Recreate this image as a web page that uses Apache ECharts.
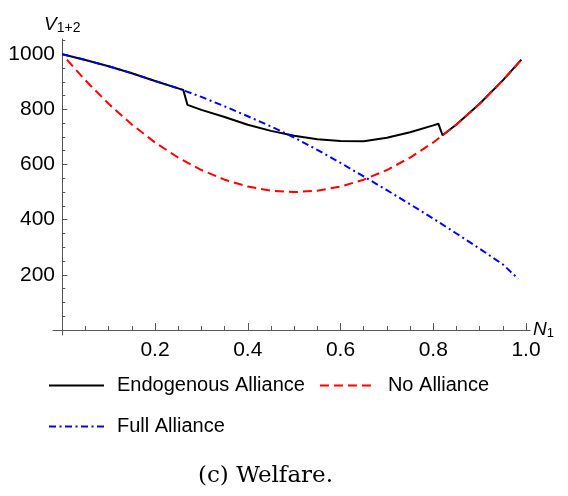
<!DOCTYPE html>
<html>
<head>
<meta charset="utf-8">
<script src="https://cdn.jsdelivr.net/npm/echarts@6/dist/echarts.min.js"></script>
<style>
  html, body { margin: 0; padding: 0; background: #fff; }
  #chart { width: 568px; height: 496px; }
</style>
</head>
<body>
<div id="chart"></div>
<script>
// Welfare V(1+2) as a function of N1 under three alliance regimes.

// Endogenous alliance (solid black)
const endoN = [0, 0.05, 0.1, 0.15, 0.2, 0.25, 0.261, 0.270, 0.3, 0.35, 0.4, 0.45, 0.5,
               0.55, 0.6, 0.65, 0.7, 0.75, 0.8, 0.811, 0.820, 0.85, 0.9, 0.95, 0.99];
const endoV = [1000, 979, 956, 931, 903, 876, 870, 816, 798, 772, 744, 722, 704,
               692, 685, 684, 697, 717, 742, 748, 706, 745, 820, 905, 980];

// No alliance (red dashed)
const noN = [0.01, 0.05, 0.1, 0.15, 0.2, 0.25, 0.3, 0.35, 0.4, 0.45, 0.5,
             0.55, 0.6, 0.65, 0.7, 0.75, 0.8, 0.85, 0.9, 0.95, 0.99];
const noV = [980, 905, 820, 745, 680, 625, 580, 545, 520, 505, 500,
             505, 520, 545, 580, 625, 680, 745, 820, 905, 980];

// Full alliance (blue dash-dot)
const fullN = [0, 0.05, 0.1, 0.15, 0.2, 0.25, 0.3, 0.35, 0.4, 0.45, 0.5,
               0.55, 0.6, 0.65, 0.7, 0.75, 0.8, 0.85, 0.9, 0.95, 0.983];
const fullV = [1000, 979, 956, 931, 903, 876, 845, 811, 775, 738, 698,
               653, 606, 557, 507, 456, 404, 350, 295, 238, 186];

// Axis ticks
const xMajorTicks = [0.2, 0.4, 0.6, 0.8, 1.0];
const xMinorTicks = [0.05, 0.1, 0.15, 0.25, 0.3, 0.35, 0.45, 0.5, 0.55, 0.65, 0.7, 0.75, 0.85, 0.9, 0.95];
const yMajorTicks = [200, 400, 600, 800, 1000];
const yMinorTicks = [50, 100, 150, 250, 300, 350, 450, 500, 550, 650, 700, 750, 850, 900, 950, 1050];

const seriesNames = ['Endogenous Alliance', 'No Alliance', 'Full Alliance'];

const SANS = '"Liberation Sans", Arial, Helvetica, sans-serif';
const AXIS_COLOR = '#555';
const X_RANGE = [-0.02, 1.0086];
const Y_RANGE = [-18, 1055];

const pairs = (xs, ys) => xs.map((x, i) => [x, ys[i]]);

const chart = echarts.init(document.getElementById('chart'), null, { renderer: 'canvas' });

chart.setOption({
  animation: false,
  backgroundColor: '#fff',
  title: {
    text: '(c) Welfare.',
    left: 198,
    top: 465,
    padding: 0,
    textStyle: {
      fontFamily: '"DejaVu Serif", "Liberation Serif", serif',
      fontSize: 23,
      fontWeight: 'normal',
      color: '#000'
    }
  },
  grid: {
    left: 53, right: 38, top: 39, bottom: 161,
    containLabel: false,
    outerBoundsMode: 'none'
  },
  legend: {
    left: 48,
    top: 372,
    width: 470,
    padding: 0,
    orient: 'horizontal',
    itemWidth: 55,
    itemHeight: 14,
    itemGap: 14,
    data: seriesNames,
    itemStyle: { opacity: 0 },
    textStyle: {
      fontFamily: SANS,
      fontSize: 20,
      color: '#000',
      lineHeight: 27,
      padding: [0, 0, 0, 8]
    }
  },
  xAxis: [
    {
      type: 'value',
      position: 'bottom',
      min: X_RANGE[0],
      max: X_RANGE[1],
      name: '{n|N}{s|1}',
      nameLocation: 'end',
      nameGap: 3,
      nameTextStyle: {
        rich: {
          n: { fontFamily: SANS, fontStyle: 'italic', fontSize: 19, lineHeight: 20, verticalAlign: 'top', color: '#000' },
          s: { fontFamily: SANS, fontSize: 13, lineHeight: 11, verticalAlign: 'bottom', color: '#000' }
        }
      },
      axisLine: { show: true, onZero: true, onZeroAxisIndex: 0, lineStyle: { color: AXIS_COLOR, width: 1 } },
      axisTick: { show: true, inside: true, length: 7, customValues: xMajorTicks, lineStyle: { color: AXIS_COLOR, width: 1 } },
      axisLabel: {
        show: true,
        customValues: xMajorTicks,
        margin: 5,
        fontFamily: SANS,
        fontSize: 21,
        color: '#000',
        formatter: v => v.toFixed(1)
      },
      splitLine: { show: false }
    },
    {
      type: 'value',
      position: 'bottom',
      min: X_RANGE[0],
      max: X_RANGE[1],
      axisLine: { show: false, onZero: true, onZeroAxisIndex: 1 },
      axisTick: { show: true, inside: true, length: 4, customValues: xMinorTicks, lineStyle: { color: AXIS_COLOR, width: 1 } },
      axisLabel: { show: false },
      splitLine: { show: false }
    }
  ],
  yAxis: [
    {
      type: 'value',
      position: 'left',
      min: Y_RANGE[0],
      max: Y_RANGE[1],
      name: '{v|V}{s|1+2}',
      nameLocation: 'end',
      nameGap: 4,
      nameTextStyle: {
        rich: {
          v: { fontFamily: SANS, fontStyle: 'italic', fontSize: 19, lineHeight: 20, verticalAlign: 'top', color: '#000' },
          s: { fontFamily: SANS, fontSize: 14, lineHeight: 11, verticalAlign: 'bottom', color: '#000' }
        }
      },
      axisLine: { show: true, onZero: true, onZeroAxisIndex: 0, lineStyle: { color: AXIS_COLOR, width: 1 } },
      axisTick: { show: true, inside: true, length: 5, customValues: yMajorTicks, lineStyle: { color: AXIS_COLOR, width: 1 } },
      axisLabel: {
        show: true,
        customValues: yMajorTicks,
        margin: -2,
        fontFamily: SANS,
        fontSize: 21,
        color: '#000',
        formatter: v => String(v)
      },
      splitLine: { show: false }
    },
    {
      type: 'value',
      position: 'left',
      min: Y_RANGE[0],
      max: Y_RANGE[1],
      axisLine: { show: false, onZero: true, onZeroAxisIndex: 1 },
      axisTick: { show: true, inside: true, length: 3, customValues: yMinorTicks, lineStyle: { color: AXIS_COLOR, width: 1 } },
      axisLabel: { show: false },
      splitLine: { show: false }
    }
  ],
  series: [
    {
      name: seriesNames[0],
      type: 'line',
      data: pairs(endoN, endoV),
      symbol: 'none',
      lineStyle: { color: '#000', width: 2, type: 'solid' },
      itemStyle: { color: '#000' },
      z: 2
    },
    {
      name: seriesNames[1],
      type: 'line',
      data: pairs(noN, noV),
      symbol: 'none',
      lineStyle: { color: '#ff0000', width: 2, type: [9, 5] },
      itemStyle: { color: '#ff0000' },
      z: 3
    },
    {
      name: seriesNames[2],
      type: 'line',
      data: pairs(fullN, fullV),
      symbol: 'none',
      lineStyle: { color: '#0000ff', width: 2, type: [7, 3.5, 2, 3.5] },
      itemStyle: { color: '#0000ff' },
      z: 4
    }
  ]
});
</script>
</body>
</html>
